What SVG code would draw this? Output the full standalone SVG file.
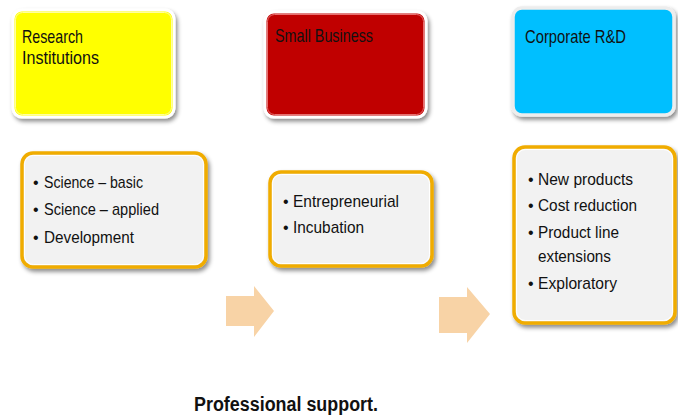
<svg xmlns="http://www.w3.org/2000/svg" width="678" height="418" viewBox="0 0 678 418">
<defs>
<filter id="sh" x="-10%" y="-10%" width="125%" height="130%">
<feDropShadow dx="2" dy="3" stdDeviation="2" flood-color="#000" flood-opacity="0.45"/>
</filter>
<style>
.t{font-family:"Liberation Sans",Arial,sans-serif;font-size:19px;fill:#111}
.b{font-family:"Liberation Sans",Arial,sans-serif;font-size:17px;fill:#111}
.bl{font-family:"Liberation Sans",Arial,sans-serif;font-size:16px;fill:#111}
.f{font-family:"Liberation Sans",Arial,sans-serif;font-size:20px;font-weight:bold;fill:#111}
.card{stroke:#F0AC00;stroke-width:3.5;fill:#F2F2F2}
.cin{fill:none;stroke:#fff;stroke-width:1}
.arrow{fill:#F8D3A6}
</style>
</defs>
<g id="research">
<rect x="13" y="10" width="161" height="107" rx="9" fill="#FFFF00" stroke="#fff" stroke-width="3" filter="url(#sh)"/>
<rect x="15.5" y="12.5" width="156" height="102" rx="7" fill="none" stroke="#FFFFA0" stroke-width="1"/>
<text class="t" x="22" y="43" textLength="61" lengthAdjust="spacingAndGlyphs">Research</text>
<text class="t" x="22" y="64" textLength="77" lengthAdjust="spacingAndGlyphs">Institutions</text>
</g>
<g id="small-business">
<rect x="265" y="12" width="161" height="105" rx="9" fill="#C00000" stroke="#fff" stroke-width="3" filter="url(#sh)"/>
<rect x="267.5" y="14.5" width="156" height="100" rx="7" fill="none" stroke="#E87070" stroke-width="1"/>
<text class="t" x="275" y="42" textLength="98" lengthAdjust="spacingAndGlyphs">Small Business</text>
</g>
<g id="corporate">
<rect x="513" y="8" width="161" height="107" rx="9" fill="#00BFFF" stroke="#EDEDED" stroke-width="3.5" filter="url(#sh)"/>
<text class="t" x="525" y="43" textLength="101" lengthAdjust="spacingAndGlyphs">Corporate R&amp;D</text>
</g>
<g id="research-list">
<rect class="card" x="22" y="153" width="184" height="114" rx="11" filter="url(#sh)"/>
<rect class="cin" x="24.5" y="155.5" width="179" height="109" rx="9"/>
<text class="bl" x="33" y="188">•</text>
<text class="b" x="44" y="188" textLength="99" lengthAdjust="spacingAndGlyphs">Science – basic</text>
<text class="bl" x="33" y="215">•</text>
<text class="b" x="44" y="215" textLength="115" lengthAdjust="spacingAndGlyphs">Science – applied</text>
<text class="bl" x="33" y="243">•</text>
<text class="b" x="44" y="243" textLength="90" lengthAdjust="spacingAndGlyphs">Development</text>
</g>
<g id="business-list">
<rect class="card" x="270" y="172" width="162" height="94" rx="11" filter="url(#sh)"/>
<rect class="cin" x="272.5" y="174.5" width="157" height="89" rx="9"/>
<text class="bl" x="283" y="207">•</text>
<text class="b" x="293" y="207" textLength="106" lengthAdjust="spacingAndGlyphs">Entrepreneurial</text>
<text class="bl" x="283" y="233">•</text>
<text class="b" x="293" y="233" textLength="71" lengthAdjust="spacingAndGlyphs">Incubation</text>
</g>
<g id="corporate-list">
<rect class="card" x="514" y="147" width="161" height="176" rx="11" filter="url(#sh)"/>
<rect class="cin" x="516.5" y="149.5" width="156" height="171" rx="9"/>
<text class="bl" x="528" y="185">•</text>
<text class="b" x="538" y="185" textLength="95" lengthAdjust="spacingAndGlyphs">New products</text>
<text class="bl" x="528" y="211">•</text>
<text class="b" x="538" y="211" textLength="99" lengthAdjust="spacingAndGlyphs">Cost reduction</text>
<text class="bl" x="528" y="238">•</text>
<text class="b" x="538" y="238" textLength="81" lengthAdjust="spacingAndGlyphs">Product line</text>
<text class="b" x="538" y="262" textLength="73" lengthAdjust="spacingAndGlyphs">extensions</text>
<text class="bl" x="528" y="289">•</text>
<text class="b" x="538" y="289" textLength="79" lengthAdjust="spacingAndGlyphs">Exploratory</text>
</g>
<g id="connectors">
<polygon class="arrow" points="226,296 254,296 254,286 274,311 254,337 254,326 226,326"/>
<polygon class="arrow" points="439,297 467,297 467,287 490,314 467,343 467,333 439,333"/>
</g>
<g id="footer">
<text class="f" x="194" y="411" textLength="184" lengthAdjust="spacingAndGlyphs">Professional support.</text>
</g>
</svg>
